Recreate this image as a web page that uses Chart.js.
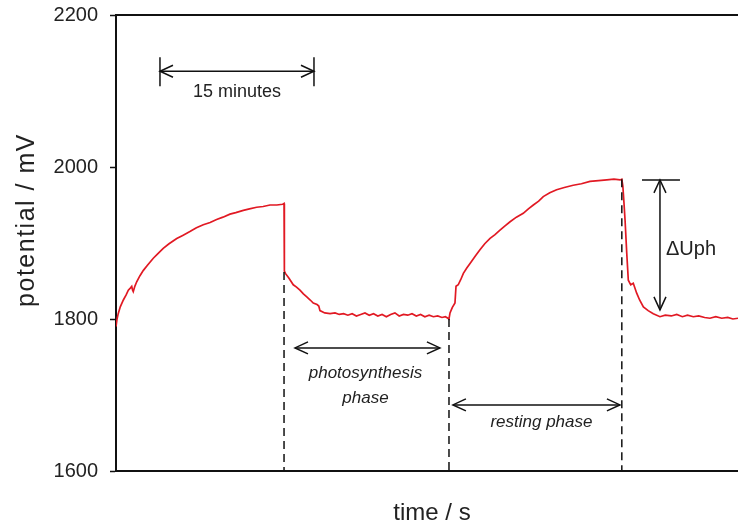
<!DOCTYPE html>
<html>
<head>
<meta charset="utf-8">
<script src="https://cdn.jsdelivr.net/npm/chart.js@4"></script>
<style>
  html, body { margin: 0; padding: 0; background: #fff; }
  #wrap { width: 738px; height: 527px; }
</style>
</head>
<body>
<div id="wrap"><canvas id="myChart" width="738" height="527"></canvas></div>
<script>
// time in seconds, potential in mV
const time = [
    0, 6, 13, 25, 43, 60, 72, 85, 92, 97, 101, 110, 121, 140, 160, 185, 218, 245, 276, 310,
    355, 390, 432, 470, 510, 550, 588, 625, 666, 700, 744, 780, 822, 860, 900, 940, 974, 982, 984,
    990, 1010, 1036, 1055, 1075, 1095, 1115, 1135, 1153, 1175, 1185, 1192, 1220, 1251,
    1280, 1305, 1330, 1355, 1380, 1405, 1430, 1455, 1480, 1505, 1530, 1555, 1580, 1605, 1630,
    1655, 1680, 1705, 1730, 1755, 1780, 1805, 1830, 1855, 1880, 1905, 1925, 1940,
    1946, 1952, 1965, 1981, 1987, 2000, 2015, 2030, 2050, 2069, 2100, 2127, 2155, 2186, 2215,
    2244, 2270, 2303, 2340, 2380, 2410, 2439, 2470, 2497, 2535, 2575, 2620, 2672, 2720, 2770,
    2820, 2868, 2910, 2946, 2956,
    2962, 2968, 2975, 2985, 2994, 3008, 3023, 3043, 3060, 3082, 3110, 3140, 3179, 3210, 3245,
    3277, 3310, 3340, 3374, 3405, 3440, 3471, 3505, 3540, 3575, 3605, 3635,
];
const potential = [
    1790, 1800, 1807, 1816, 1825, 1832, 1838, 1841, 1843, 1838, 1836, 1843, 1849, 1857, 1864, 1871, 1880, 1886, 1893, 1899,
    1906, 1910, 1915, 1920, 1924, 1927, 1931, 1934, 1938, 1940, 1943, 1945, 1947, 1948, 1950, 1950, 1951, 1952, 1863,
    1860, 1854, 1845, 1842, 1838, 1833, 1829, 1825, 1821, 1819, 1817, 1811, 1808, 1807,
    1808, 1806, 1807, 1805, 1807, 1804, 1806, 1808, 1805, 1807, 1804, 1806, 1803, 1806, 1808,
    1804, 1806, 1805, 1807, 1804, 1806, 1803, 1805, 1803, 1804, 1802, 1803, 1801,
    1800, 1808, 1815, 1821, 1843, 1845, 1852, 1860, 1867, 1873, 1883, 1891, 1899, 1906, 1911,
    1917, 1922, 1928, 1934, 1939, 1945, 1950, 1955, 1961, 1966, 1970, 1973, 1976, 1978, 1981,
    1982, 1983, 1984, 1983, 1984,
    1975, 1955, 1930, 1886, 1851, 1845, 1847, 1834, 1825, 1816, 1811, 1807, 1803, 1805, 1804,
    1806, 1803, 1805, 1803, 1804, 1802, 1801, 1803, 1801, 1802, 1800, 1801,
];
const yTicks = [1600, 1800, 2000, 2200];

// annotation anchors in data units (time s, potential mV)
const phaseLines = [[982, 1862], [1946, 1800], [2956, 1984]];
const scaleBar = { t1: 257, t2: 1157, v: 2126, label: "15 minutes" };
const photoArrow = { t1: 1046, t2: 1893, v: 1762 };
const restArrow = { t1: 1969, t2: 2945, v: 1687 };
const deltaArrow = { t: 3179, v1: 1983, v2: 1812 };

const FONT = "'Liberation Sans', Arial, sans-serif";

function arrowHead(ctx, x, y, dx, dy) {
    // open V head pointing along (dx, dy)
    const len = 13, half = 6;
    const px = -dy, py = dx;
    ctx.beginPath();
    ctx.moveTo(x - dx * len + px * half, y - dy * len + py * half);
    ctx.lineTo(x, y);
    ctx.lineTo(x - dx * len - px * half, y - dy * len - py * half);
    ctx.stroke();
}

function hArrow(ctx, x1, x2, y) {
    ctx.beginPath();
    ctx.moveTo(x1, y);
    ctx.lineTo(x2, y);
    ctx.stroke();
    arrowHead(ctx, x1, y, -1, 0);
    arrowHead(ctx, x2, y, 1, 0);
}

const annotations = {
    id: "annotations",
    afterDraw(chart) {
        const ctx = chart.ctx;
        const xs = chart.scales.x, ys = chart.scales.y;
        const area = chart.chartArea;
        ctx.save();
        ctx.strokeStyle = "#111";
        ctx.fillStyle = "#222";
        ctx.lineWidth = 1.5;

        // top frame line
        ctx.beginPath();
        ctx.moveTo(area.left, area.top);
        ctx.lineTo(area.right, area.top);
        ctx.lineWidth = 2;
        ctx.stroke();
        ctx.lineWidth = 1.5;

        // dashed phase lines
        ctx.setLineDash([8, 5]);
        phaseLines.forEach(([t, v]) => {
            const x = xs.getPixelForValue(t);
            ctx.beginPath();
            ctx.moveTo(x, ys.getPixelForValue(v));
            ctx.lineTo(x, area.bottom);
            ctx.stroke();
        });
        ctx.setLineDash([]);

        // 15 minutes scale bar
        const sx1 = xs.getPixelForValue(scaleBar.t1), sx2 = xs.getPixelForValue(scaleBar.t2);
        const sy = ys.getPixelForValue(scaleBar.v);
        hArrow(ctx, sx1, sx2, sy);
        [sx1, sx2].forEach(x => {
            ctx.beginPath();
            ctx.moveTo(x, sy - 14);
            ctx.lineTo(x, sy + 15);
            ctx.stroke();
        });
        ctx.font = "18px " + FONT;
        ctx.textAlign = "center";
        ctx.textBaseline = "middle";
        ctx.fillText(scaleBar.label, (sx1 + sx2) / 2, sy + 21);

        // photosynthesis phase
        const py = ys.getPixelForValue(photoArrow.v);
        const pxa = xs.getPixelForValue(photoArrow.t1), pxb = xs.getPixelForValue(photoArrow.t2);
        hArrow(ctx, pxa, pxb, py);
        ctx.font = "italic 17px " + FONT;
        ctx.fillText("photosynthesis", (pxa + pxb) / 2 - 2, py + 25);
        ctx.fillText("phase", (pxa + pxb) / 2 - 2, py + 50);

        // resting phase
        const ry = ys.getPixelForValue(restArrow.v);
        const rxa = xs.getPixelForValue(restArrow.t1), rxb = xs.getPixelForValue(restArrow.t2);
        hArrow(ctx, rxa, rxb, ry);
        ctx.fillText("resting phase", (rxa + rxb) / 2 + 5, ry + 17);

        // delta Uph
        const dx = xs.getPixelForValue(deltaArrow.t);
        const dy1 = ys.getPixelForValue(deltaArrow.v1), dy2 = ys.getPixelForValue(deltaArrow.v2);
        ctx.beginPath();
        ctx.moveTo(dx, dy1);
        ctx.lineTo(dx, dy2);
        ctx.moveTo(dx - 18, dy1);
        ctx.lineTo(dx + 20, dy1);
        ctx.stroke();
        arrowHead(ctx, dx, dy1, 0, -1);
        arrowHead(ctx, dx, dy2, 0, 1);
        ctx.font = "20px " + FONT;
        ctx.textAlign = "left";
        ctx.fillText("\u0394Uph", dx + 6, (dy1 + dy2) / 2 + 5);

        // axis titles
        ctx.font = "24px " + FONT;
        ctx.textAlign = "center";
        ctx.fillText("time / s", (area.left + area.right) / 2 + 5, 513);
        ctx.save();
        ctx.translate(27, 220);
        ctx.rotate(-Math.PI / 2);
        ctx.font = "25px " + FONT;
        ctx.letterSpacing = "1.5px";
        ctx.fillText("potential / mV", 0, 0);
        ctx.restore();

        ctx.restore();
    },
};

const data = {
    datasets: [
        {
            label: "potential",
            data: time.map((t, i) => ({ x: t, y: potential[i] })),
            borderColor: "rgb(225, 25, 35)",
            borderWidth: 1.7,
            pointRadius: 0,
            tension: 0,
            fill: false,
        },
    ],
};

const config = {
    type: "line",
    data: data,
    options: {
        responsive: false,
        animation: false,
        layout: { padding: { left: 0, top: 15, right: 0, bottom: 56 } },
        plugins: { legend: { display: false }, tooltip: { enabled: false } },
        scales: {
            x: {
                type: "linear",
                min: 0,
                max: 3635,
                grid: { display: false, drawTicks: false },
                border: { display: true, color: "#111", width: 2 },
                ticks: { display: false },
                afterFit(s) { s.height = 0; s.paddingLeft = 0; s.paddingRight = 0; },
            },
            y: {
                min: 1600,
                max: 2200,
                afterBuildTicks(s) { s.ticks = yTicks.map(v => ({ value: v })); },
                grid: { display: true, drawOnChartArea: false, tickLength: 6, color: "#111", tickWidth: 1.5 },
                border: { display: true, color: "#111", width: 2 },
                ticks: {
                    padding: 12,
                    color: "#222",
                    font: { family: FONT, size: 20 },
                    callback: v => String(v),
                },
                afterFit(s) { s.width = 116; s.paddingTop = 0; s.paddingBottom = 0; },
            },
        },
    },
    plugins: [annotations],
};

const myChart = new Chart(document.getElementById("myChart"), config);
</script>
</body>
</html>
